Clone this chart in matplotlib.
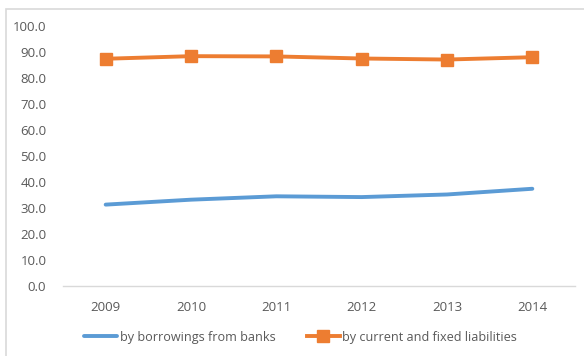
import matplotlib
matplotlib.use("Agg")
import matplotlib.pyplot as plt
from matplotlib.patches import Rectangle

years = ["2009", "2010", "2011", "2012", "2013", "2014"]
banks = [31.3, 33.2, 34.5, 34.2, 35.2, 37.4]
liabilities = [87.4, 88.4, 88.3, 87.5, 87.1, 88.0]
yticks = [0, 10, 20, 30, 40, 50, 60, 70, 80, 90, 100]

plt.rcParams['font.family'] = ['Open Sans', 'DejaVu Sans']
W, H = 584, 356
fig = plt.figure(figsize=(W/100, H/100), dpi=100)
fig.patch.set_facecolor('white')

# outer chart border
fig.patches.append(Rectangle((6/W, -0.05), 1.2, (H-9)/H + 0.05, transform=fig.transFigure,
                             fill=False, edgecolor='#d9d9d9', linewidth=1.2))

ax = fig.add_axes([63/W, 1-286/H, (575-63)/W, (286-26)/H])
x = list(range(len(years)))
l1, = ax.plot(x, banks, color='#5B9BD5', lw=2.8, solid_capstyle='round',
              label='by borrowings from banks')
l2, = ax.plot(x, liabilities, color='#ED7D31', lw=2.8, marker='s', markersize=9,
              label='by current and fixed liabilities')

ax.set_xlim(-0.5, 5.5)
ax.set_ylim(0, 100)
ax.set_xticks(x)
ax.set_xticklabels(years)
ax.set_yticks(yticks)
ax.set_yticklabels([f"{v:.1f}" for v in yticks])
for s in ['top', 'right', 'left']:
    ax.spines[s].set_visible(False)
ax.spines['bottom'].set_color('#d9d9d9')
ax.spines['bottom'].set_linewidth(1.0)
ax.tick_params(axis='both', length=0, labelsize=9.5, labelcolor='#595959')
ax.tick_params(axis='y', pad=12)
ax.tick_params(axis='x', pad=11)

fig.legend(handles=[l1, l2], loc='center', bbox_to_anchor=(0.515, 1-337/H), ncol=2,
           frameon=False, fontsize=9.1, labelcolor='#595959', handlelength=2.6,
           handletextpad=0.2, columnspacing=2.5)

fig.savefig('out.png', dpi=100)
